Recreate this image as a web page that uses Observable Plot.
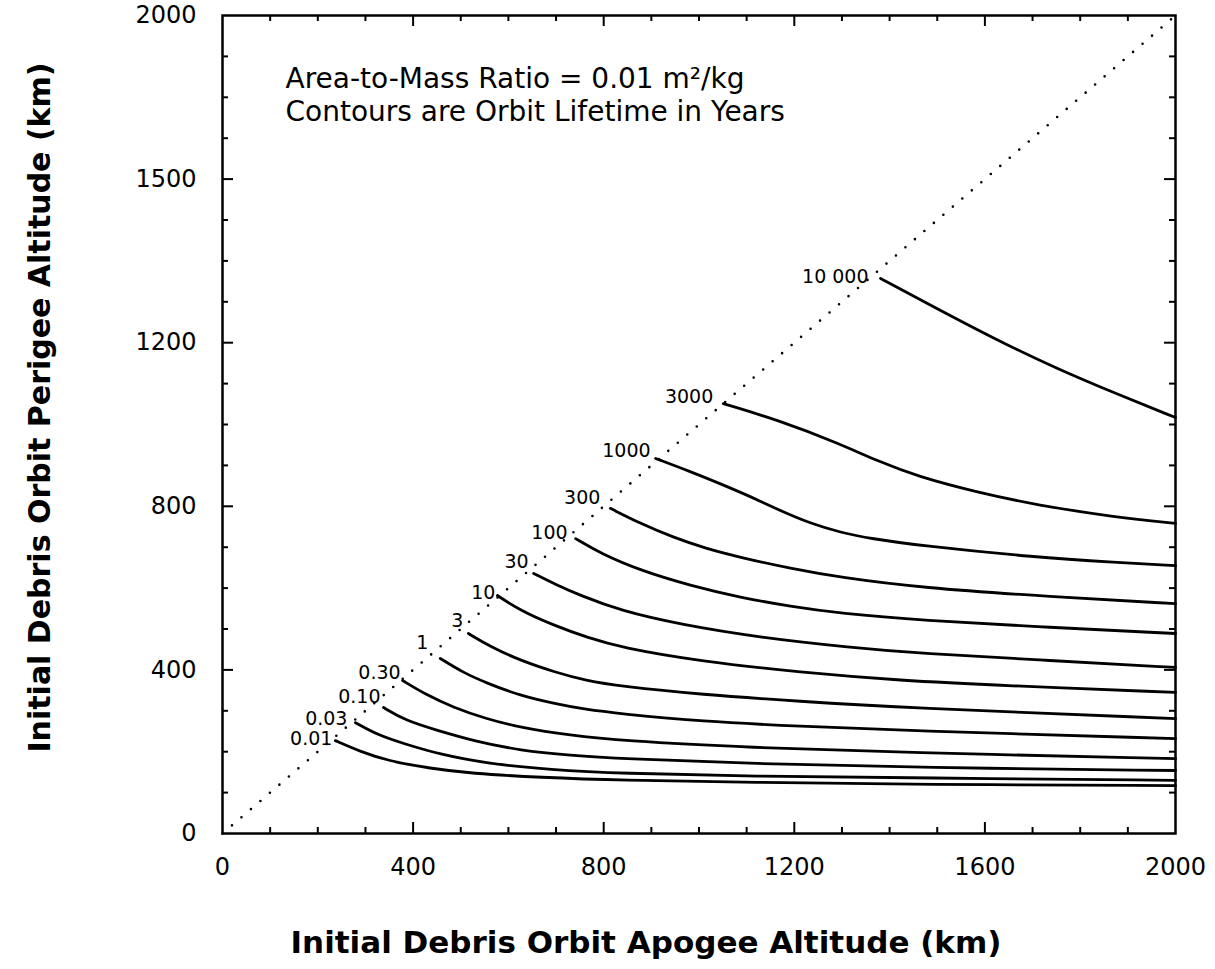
<!DOCTYPE html>
<html>
<head>
<meta charset="utf-8">
<script src="https://cdn.jsdelivr.net/npm/d3@7"></script>
<script src="https://cdn.jsdelivr.net/npm/@observablehq/plot@0.6"></script>
<style>
  html, body { margin: 0; padding: 0; background: #fff; }
  #chart svg { display: block; }
</style>
</head>
<body>
<div id="chart"></div>
<script>
// ---- Data (apogee km, perigee km) ----
const lifetimeLabels = ["0.01", "0.03", "0.10", "0.30", "1", "3", "10", "30", "100", "300", "1000", "3000", "10 000"];

const contour_0_01 = [[237, 227], [290, 200], [346, 178], [437, 159], [520, 147], [667, 137], [835, 130], [1108, 125], [1465, 120], [2000, 117]];
const contour_0_03 = [[279, 271], [327, 240], [380, 220], [457, 193], [556, 171], [688, 156], [835, 147], [1108, 140], [1465, 136], [2000, 130]];
const contour_0_10 = [[338, 308], [384, 276], [451, 252], [531, 225], [625, 203], [730, 191], [835, 183], [1108, 171], [1465, 161], [2000, 154]];
const contour_0_30 = [[378, 374], [426, 340], [485, 308], [552, 281], [625, 259], [730, 240], [835, 227], [1108, 210], [1423, 198], [2000, 183]];
const contour_1 = [[457, 428], [504, 394], [556, 367], [625, 337], [695, 318], [762, 303], [835, 293], [1003, 274], [1213, 262], [1423, 252], [2000, 232]];
const contour_3 = [[516, 489], [562, 457], [625, 423], [699, 394], [762, 374], [835, 360], [1003, 340], [1213, 323], [1423, 308], [2000, 281]];
const contour_10 = [[577, 582], [625, 545], [695, 509], [766, 479], [835, 455], [1003, 421], [1213, 394], [1423, 374], [1633, 362], [2000, 345]];
const contour_30 = [[653, 636], [699, 609], [751, 582], [835, 545], [961, 511], [1129, 479], [1318, 455], [1465, 440], [1738, 423], [2000, 406]];
const contour_100 = [[741, 721], [793, 685], [877, 643], [982, 606], [1087, 577], [1192, 555], [1297, 538], [1465, 521], [1738, 504], [2000, 489]];
const contour_300 = [[814, 795], [877, 758], [946, 724], [1014, 697], [1087, 675], [1192, 648], [1297, 626], [1465, 601], [1738, 579], [2000, 562]];
const contour_1000 = [[909, 917], [982, 885], [1043, 856], [1108, 824], [1169, 790], [1234, 758], [1297, 736], [1360, 721], [1465, 704], [1708, 675], [1876, 663], [2000, 655]];
const contour_3000 = [[1051, 1051], [1168, 1010], [1293, 954], [1376, 910], [1459, 873], [1585, 834], [1709, 803], [1876, 773], [2000, 758]];
const contour_10000 = [[1381, 1357], [1500, 1283], [1626, 1206], [1750, 1137], [1876, 1075], [2000, 1017]];

const diagonal = [[0, 0], [2000, 2000]];

const xTicks = [0, 400, 800, 1200, 1600, 2000];
const xTickLabels = ["0", "400", "800", "1200", "1600", "2000"];
const yTicks = [0, 400, 800, 1200, 1600, 2000];
const yTickLabels = ["0", "400", "800", "1200", "1500", "2000"];

const annotationLines = ["Area-to-Mass Ratio = 0.01 m²/kg", "Contours are Orbit Lifetime in Years"];
const xTitle = "Initial Debris Orbit Apogee Altitude (km)";
const yTitle = "Initial Debris Orbit Perigee Altitude (km)";

// ---- Build tables ----
const contourSets = [contour_0_01, contour_0_03, contour_0_10, contour_0_30, contour_1, contour_3,
  contour_10, contour_30, contour_100, contour_300, contour_1000, contour_3000, contour_10000];

const lines = contourSets.flatMap((pts, i) =>
  pts.map(([a, p]) => ({lifetime: lifetimeLabels[i], apogee: a, perigee: p})));
const starts = contourSets.map((pts, i) => ({lifetime: lifetimeLabels[i], apogee: pts[0][0], perigee: pts[0][1]}));

// ---- Layout / styling ----
const W = 1215, H = 969;
const mL = 222, mR = 40, mT = 15, mB = 136;
const fw = W - mL - mR, fh = H - mT - mB;
const majorLen = 11, minorLen = 6;
// pixel offsets of each contour label from its curve's start (styling)
const labelDx = [-3, -8, -3, -2, -12, -5, -2, -5, -8, -10, -5, -10, -12];
const labelDy = [-2, -4, -11, -8, -16, -13, -3, -11, -6, -10, -8, -7, -2];

const minorX = d3.range(100, 2000, 100).filter(v => v % 400 !== 0);
const majorX = xTicks.filter(v => v > 0 && v < 2000);
const minorY = d3.range(100, 2000, 100).filter(v => v % 400 !== 0);
const majorY = yTicks.filter(v => v > 0 && v < 2000);

const tickStyle = {stroke: "black", strokeWidth: 2};
const font = "DejaVu Sans, sans-serif";

const labelMarks = starts.map((s, i) =>
  Plot.text([s], {x: "apogee", y: "perigee", text: "lifetime", textAnchor: "end",
    dx: labelDx[i], dy: labelDy[i], fontSize: 19, fontFamily: font, fill: "black"}));

const chart = Plot.plot({
  width: W,
  height: H,
  marginLeft: mL, marginRight: mR, marginTop: mT, marginBottom: mB,
  style: {background: "#fff", color: "black", fontFamily: font},
  x: {domain: [0, 2000]},
  y: {domain: [0, 2000]},
  marks: [
    Plot.axisX(xTicks, {tickSize: 0, tickPadding: 24, fontSize: 24, fontFamily: font, label: null,
      tickFormat: (d) => xTickLabels[xTicks.indexOf(d)]}),
    Plot.axisY(yTicks, {tickSize: 0, tickPadding: 26, fontSize: 24, fontFamily: font, label: null,
      tickFormat: (d) => yTickLabels[yTicks.indexOf(d)]}),
    // inward ticks: left / right
    Plot.ruleY(minorY, {...tickStyle, insetRight: fw - minorLen}),
    Plot.ruleY(majorY, {...tickStyle, insetRight: fw - majorLen}),
    Plot.ruleY(minorY, {...tickStyle, insetLeft: fw - minorLen}),
    Plot.ruleY(majorY, {...tickStyle, insetLeft: fw - majorLen}),
    // inward ticks: bottom / top
    Plot.ruleX(minorX, {...tickStyle, insetTop: fh - minorLen}),
    Plot.ruleX(majorX, {...tickStyle, insetTop: fh - majorLen}),
    Plot.ruleX(minorX, {...tickStyle, insetBottom: fh - minorLen}),
    Plot.ruleX(majorX, {...tickStyle, insetBottom: fh - majorLen}),
    Plot.frame({stroke: "black", strokeWidth: 2.5}),
    // dotted diagonal
    Plot.line(diagonal, {x: d => d[0], y: d => d[1], stroke: "black", strokeWidth: 2.6,
      strokeDasharray: "0,12.5", strokeLinecap: "round"}),
    // contours
    Plot.line(lines, {x: "apogee", y: "perigee", z: "lifetime", stroke: "black",
      strokeWidth: 2.8, curve: "basis"}),
    // contour labels
    ...labelMarks,
    // annotation
    Plot.text([annotationLines.join("\n")], {frameAnchor: "top-left", dx: 63, dy: 50,
      lineAnchor: "top", lineHeight: 1.15, textAnchor: "start", fontSize: 28, fontFamily: font, fill: "black"}),
    // axis titles
    Plot.text([xTitle], {frameAnchor: "bottom", dx: -53, dy: 110, textAnchor: "middle", lineAnchor: "middle",
      fontSize: 31, fontWeight: "bold", fontFamily: font, fill: "black"}),
    Plot.text([yTitle], {frameAnchor: "left", dx: -182, dy: -17, rotate: -90, textAnchor: "middle",
      lineAnchor: "middle", fontSize: 30, fontWeight: "bold", fontFamily: font, fill: "black"})
  ]
});

document.getElementById("chart").appendChild(chart);
</script>
</body>
</html>
